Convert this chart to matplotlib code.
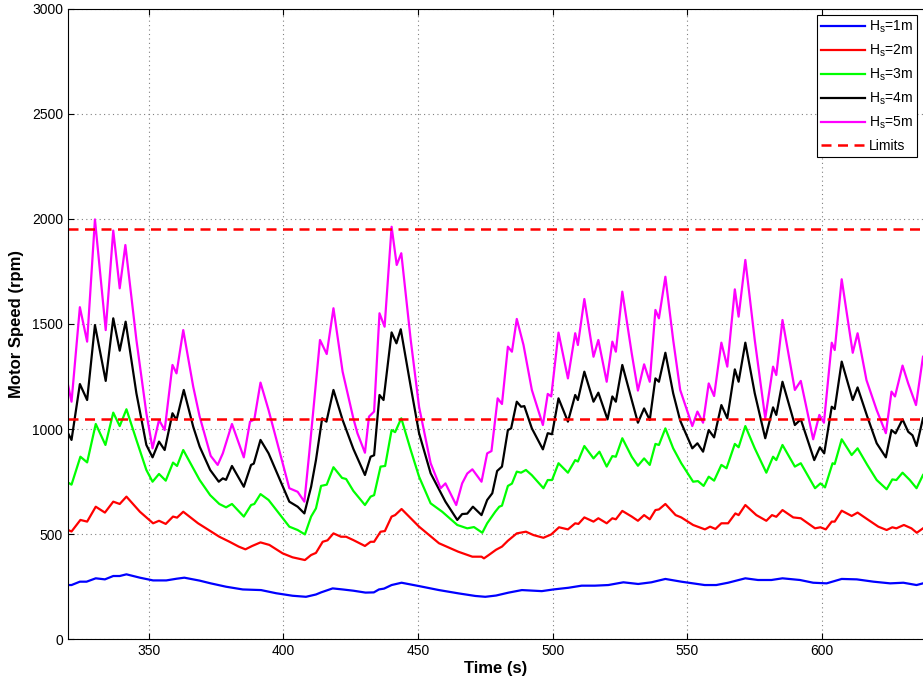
import matplotlib
matplotlib.use('Agg')
import matplotlib.pyplot as plt

plt.rcParams['font.family'] = ['Liberation Sans', 'DejaVu Sans']
plt.rcParams['mathtext.fontset'] = 'custom'
plt.rcParams['mathtext.rm'] = 'Liberation Sans'

# Hs = 1m
t_hs1 = [320, 321.3, 324.4, 326.9, 330.3, 333.7, 336.8, 339.2, 341.7, 346.7, 351.6, 356.5, 360.3, 363.2,
         368.9, 373, 378.7, 384.9, 391.7, 397.3, 403.4, 408.4, 412.1, 414, 418.3, 422, 426, 430.5, 433.6,
         435.5, 437.4, 440.2, 443.9, 450.4, 457.8, 465.2, 471.3, 475, 479, 483.7, 488.6, 496, 500.3, 505.9,
         510.8, 515.7, 520.7, 526.3, 531.8, 536.7, 541.9, 547.8, 556.5, 560.8, 565.2, 571.6, 576.3, 581.3,
         585.4, 591.9, 596.8, 601.8, 607.4, 613, 619.2, 625.4, 630.3, 635.2, 637.6]
rpm_hs1 = [257, 257, 273, 273, 289, 284, 300, 300, 308, 292, 279, 279, 287, 292,
           278, 265, 249, 236, 233, 218, 206, 201, 212, 222, 241, 236, 230, 221, 222,
           236, 240, 257, 268, 252, 233, 217, 205, 201, 207, 221, 233, 228, 236, 244,
           254, 254, 257, 270, 262, 270, 286, 273, 257, 257, 268, 289, 281, 281,
           289, 281, 268, 265, 286, 284, 273, 265, 268, 257, 265]

# Hs = 2m
t_hs2 = [320, 321.3, 324.6, 327.1, 330.3, 333.7, 336.8, 339.2, 341.7, 346.7, 351.6, 353.8, 356.3, 359,
         360.5, 362.8, 368.3, 373, 376.2, 380, 383.4, 385.9, 388.4, 391.5, 394.8, 399.7, 403.4, 408,
         410.3, 412.1, 414.6, 416.4, 418.6, 421.4, 423.3, 426, 430.3, 432.4, 433.7, 436.1, 437.7, 440.2,
         441.5, 443.9, 450.4, 457.8, 464.9, 470.2, 473.6, 474.5, 476.3, 479, 481.2, 483.4, 486.7, 490.1,
         492.9, 496.6, 499.5, 502.4, 505.7, 508.4, 509.6, 511.8, 515.2, 517, 520.1, 522.2, 523.5, 525.9,
         529.4, 531.7, 534, 536.1, 538.2, 539.5, 541.9, 545.7, 547.8, 552.2, 556.6, 558.5, 560.5, 562.7,
         565.2, 567.9, 569.1, 571.6, 575.7, 579.4, 581.5, 583.1, 585.4, 589.4, 592.2, 597.5, 599.5, 601.5,
         603.7, 604.8, 607.4, 611.1, 613.3, 617.3, 621, 624.1, 626.2, 627.7, 630.5, 633.3, 635.3, 637.6]
rpm_hs2 = [519, 512, 567, 559, 630, 602, 654, 643, 678, 606, 551, 563, 548, 583,
           578, 606, 551, 513, 487, 463, 440, 427, 443, 460, 448, 408, 389, 376,
           400, 410, 463, 470, 503, 487, 487, 471, 443, 463, 463, 511, 514, 583,
           590, 619, 535, 456, 416, 392, 392, 384, 400, 425, 440, 468, 503, 511,
           495, 482, 498, 532, 522, 551, 548, 579, 559, 575, 551, 575, 570, 610,
           583, 563, 590, 570, 614, 617, 643, 590, 579, 543, 522, 535, 524, 551,
           551, 598, 590, 638, 590, 563, 590, 582, 614, 579, 575, 527, 532, 522,
           559, 559, 611, 586, 602, 567, 535, 519, 532, 527, 543, 527, 506, 527]

# Hs = 3m
t_hs3 = [320, 321.3, 324.6, 327.1, 330.3, 333.9, 336.8, 339.2, 341.7, 345.4, 349.1, 351.4, 353.8, 356.3,
         359, 360.5, 362.8, 366.5, 368.9, 372.8, 376.2, 378.7, 380.9, 385.3, 388, 389.2, 391.5, 394.5,
         402.2, 405.3, 408, 410.3, 412.1, 414, 416.1, 418.6, 421.8, 423.3, 426, 430.3, 432.4, 433.7,
         436.1, 437.8, 440.2, 441.5, 443.8, 447.3, 450.4, 454.7, 459, 464.6, 468.3, 470.8, 473.9, 475.7,
         478.7, 480.2, 481.2, 483.4, 484.9, 486.7, 488.3, 490.1, 492.3, 496.6, 498.2, 499.8, 502.2, 505.7,
         508.4, 509.4, 511.8, 515.2, 517.4, 520.1, 522.2, 523.5, 525.9, 529.4, 531.7, 534, 536.1, 538.2,
         539.5, 541.9, 544.8, 547.8, 552.2, 554, 556.1, 558, 560, 562.7, 564.6, 567.7, 569.1, 571.6,
         575.1, 579.4, 581.9, 583.1, 585.4, 590, 592.2, 597.5, 599.5, 601.2, 604, 604.8, 607.4, 611.1,
         613.3, 616.9, 620.4, 624.1, 626.2, 627.7, 630, 632.7, 635.2, 637.6]
rpm_hs3 = [745, 735, 868, 841, 1024, 924, 1078, 1014, 1094, 948, 805, 749, 786, 754,
           840, 824, 900, 813, 757, 685, 643, 627, 643, 583, 638, 643, 690, 662,
           535, 519, 498, 583, 622, 729, 735, 818, 767, 762, 705, 638, 678, 685,
           821, 824, 995, 985, 1051, 900, 773, 646, 606, 543, 527, 533, 506, 551,
           606, 630, 635, 729, 740, 797, 792, 805, 780, 718, 757, 757, 837, 792,
           852, 845, 919, 860, 892, 821, 871, 868, 956, 868, 825, 860, 829, 929,
           924, 1003, 908, 837, 749, 752, 729, 773, 754, 829, 813, 929, 913, 1014,
           908, 792, 868, 852, 924, 821, 837, 718, 741, 722, 837, 833, 951, 876,
           908, 829, 757, 713, 760, 757, 792, 757, 718, 781]

# Hs = 4m
t_hs4 = [320, 321.3, 324.4, 327.1, 330, 334, 336.8, 339.2, 341.4, 345.4, 349.1, 351.4, 353.8, 355.9,
         358.8, 360.3, 363, 366.5, 368.9, 372.8, 376, 377.5, 378.7, 380.9, 385.3, 388, 389, 391.5,
         394.5, 402.2, 405.3, 407.8, 410.3, 412.1, 414.4, 416, 418.6, 422, 426, 430.3, 432.4, 433.7,
         435.7, 437.2, 440.2, 442, 443.6, 447.3, 450.4, 454.7, 460.2, 464.6, 466.4, 468.3, 470.4, 473.6,
         475.7, 477.6, 479.4, 481.2, 483.4, 484.6, 486.7, 488.3, 489.5, 492.3, 496.4, 498.2, 499.8, 502.2,
         505.7, 508.4, 509.4, 511.8, 515.2, 517, 520.4, 522.2, 523.5, 525.9, 529.4, 531.7, 534, 536.1,
         538.2, 539.5, 541.9, 544.8, 547.4, 551.9, 553.8, 555.9, 558, 560, 562.7, 564.9, 567.7, 569.1,
         571.6, 575.1, 579, 581.9, 583.1, 585.4, 590, 592.2, 597.2, 599.3, 600.9, 603.7, 604.8, 607.4,
         611.5, 613.3, 616.9, 620.4, 623.8, 625.9, 627.4, 630, 632.1, 633.7, 635.2, 637.6]
rpm_hs4 = [980, 948, 1214, 1138, 1495, 1229, 1527, 1373, 1511, 1170, 924, 865, 940, 900,
           1075, 1043, 1186, 1011, 916, 805, 749, 765, 758, 824, 725, 829, 835, 948,
           884, 654, 630, 598, 725, 852, 1051, 1035, 1186, 1043, 905, 781, 868, 875,
           1162, 1138, 1460, 1408, 1475, 1202, 980, 789, 654, 567, 595, 597, 630, 590,
           662, 694, 800, 821, 995, 1003, 1130, 1106, 1109, 1003, 903, 980, 975, 1146,
           1035, 1162, 1138, 1273, 1130, 1173, 1046, 1155, 1130, 1305, 1138, 1030, 1098, 1043,
           1241, 1225, 1363, 1170, 1040, 908, 932, 892, 995, 960, 1114, 1051, 1284, 1225,
           1411, 1170, 956, 1103, 1067, 1225, 1019, 1046, 852, 913, 884, 1106, 1095, 1321,
           1138, 1198, 1059, 932, 865, 995, 979, 1046, 987, 970, 919, 1051]

# Hs = 5m
t_hs5 = [320, 321.3, 324.4, 327.1, 330, 334, 336.8, 339.2, 341.3, 345.4, 349.1, 351.4, 353.8, 355.9,
         358.8, 360.3, 362.8, 366.5, 368.9, 373, 375.6, 377.5, 380.9, 385.3, 387.6, 389.2, 391.5, 394.5,
         402.2, 405.3, 407.8, 409.6, 413.6, 416.1, 418.6, 422, 426, 427.5, 430.3, 431.8, 433.7, 435.7,
         437.6, 440.2, 442.1, 443.8, 447.3, 450.4, 454.7, 458.4, 460.2, 464.2, 466.4, 468.3, 470.2, 473.6,
         475.7, 477.3, 479.6, 481.2, 483.4, 484.9, 486.7, 489.2, 492.3, 496.4, 498.2, 499.5, 502.2, 505.7,
         508.4, 509.4, 511.8, 515.2, 517, 520.1, 522.2, 523.5, 525.9, 529.4, 531.7, 534, 536.1, 538.2,
         539.5, 541.9, 544.8, 547.4, 551.9, 553.8, 555.9, 558, 560, 562.7, 564.9, 567.7, 569.1, 571.6,
         575.1, 579, 581.9, 583.1, 585.4, 590, 592.2, 596.8, 599.1, 600.8, 603.7, 604.8, 607.4, 611.5,
         613.3, 616.6, 620.4, 623.8, 625.9, 627.2, 630, 632.1, 635, 637.6]
rpm_hs5 = [1210, 1130, 1580, 1416, 1998, 1471, 1945, 1670, 1876, 1424, 1075, 908, 1043, 995,
           1305, 1265, 1471, 1202, 1059, 872, 829, 884, 1024, 865, 1035, 1045, 1221, 1090,
           718, 701, 654, 884, 1424, 1357, 1575, 1273, 1050, 980, 887, 1059, 1083, 1551,
           1487, 1963, 1781, 1837, 1424, 1106, 837, 718, 741, 638, 741, 788, 808, 749,
           884, 895, 1146, 1119, 1392, 1368, 1524, 1400, 1186, 1019, 1167, 1155, 1459, 1241,
           1456, 1400, 1619, 1344, 1424, 1225, 1416, 1368, 1654, 1360, 1183, 1308, 1225, 1567,
           1527, 1725, 1424, 1186, 1014, 1083, 1030, 1217, 1157, 1411, 1297, 1665, 1535, 1805,
           1424, 1051, 1297, 1257, 1519, 1186, 1229, 951, 1067, 1030, 1411, 1376, 1713, 1363,
           1456, 1233, 1090, 980, 1178, 1155, 1302, 1217, 1114, 1344]

limits = [1050, 1950]
labels = ['$\\mathregular{H_s}$=1m', '$\\mathregular{H_s}$=2m', '$\\mathregular{H_s}$=3m',
          '$\\mathregular{H_s}$=4m', '$\\mathregular{H_s}$=5m']
colors = ['#0000ff', '#ff0000', '#00ff00', '#000000', '#ff00ff']

fig = plt.figure(figsize=(9.23, 6.86), dpi=100)
ax = fig.add_axes([0.0737, 0.0685, 0.9263, 0.9184])

series = [(t_hs1, rpm_hs1), (t_hs2, rpm_hs2), (t_hs3, rpm_hs3), (t_hs4, rpm_hs4), (t_hs5, rpm_hs5)]
for (t, v), lab, c in zip(series, labels, colors):
    ax.plot(t, v, color=c, lw=1.6, label=lab)

for i, lim in enumerate(limits):
    ax.axhline(lim, color='#ff0000', lw=1.8, ls=(0, (4, 2.6)), label='Limits' if i == 0 else None)

ax.set_xlim(320, 637.6)
ax.set_ylim(0, 3000)
ax.set_xticks([350, 400, 450, 500, 550, 600])
ax.set_yticks(range(0, 3001, 500))
ax.grid(True, ls=(0, (1, 3)), color='#808080', lw=0.8)
ax.tick_params(direction='in', top=True, right=False, labelsize=10, length=4)
ax.spines['right'].set_visible(False)

ax.set_xlabel('Time (s)', fontsize=12, fontweight='bold', labelpad=2)
ax.set_ylabel('Motor Speed (rpm)', fontsize=12, fontweight='bold', labelpad=6)

leg = ax.legend(loc='upper right', fontsize=10, frameon=True, fancybox=False, framealpha=1,
                edgecolor='black', handlelength=3.2, handletextpad=0.3, labelspacing=0.55,
                borderaxespad=0.4, borderpad=0.3)
leg.get_frame().set_linewidth(0.8)

fig.savefig('out.png', dpi=100)
